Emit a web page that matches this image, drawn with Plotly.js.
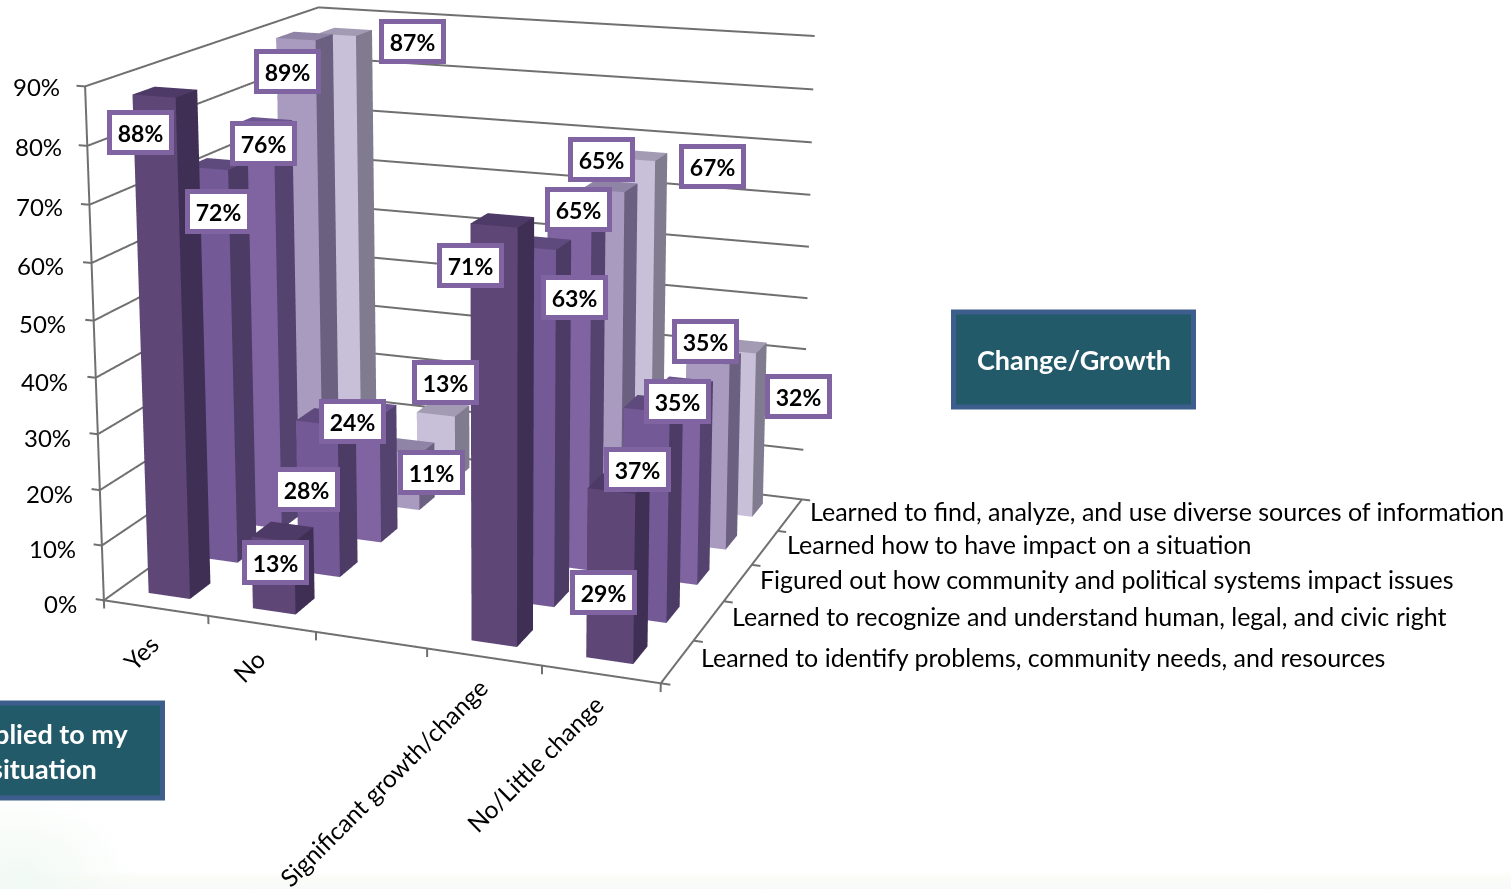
<!DOCTYPE html>
<html><head><meta charset="utf-8">
<script src="https://cdn.plot.ly/plotly-3.0.1.min.js"></script>
<style>
html,body{margin:0;padding:0;overflow:hidden;background:#fff;width:1511px;height:889px}
#wrap{position:fixed;left:0;top:0;width:1511px;height:889px;overflow:hidden;
background:
 radial-gradient(ellipse 120px 90px at 20px 880px,#f1f9f3 0%,rgba(255,255,255,0) 100%),
 linear-gradient(to bottom,rgba(255,255,255,0) 0,rgba(255,255,255,0) 872px,#fbfcf8 878px,#f8fafa 889px),#fff}
#chart{position:absolute;left:-699px;top:-865px}
</style></head><body><div id="wrap"><div id="chart"></div></div>
<script>
// ---- data ----
var categories=["Yes","No","","Significant growth/change","No/Little change"];
var seriesNames=["Learned to identify problems, community needs, and resources",
 "Learned to recognize and understand human, legal, and civic right",
 "Figured out how community and political systems impact issues",
 "Learned how to have impact on a situation",
 "Learned to find, analyze, and use diverse sources of information"];
var identifyProblems=[88,13,null,71,29];
var recognizeRights=[72,28,null,63,37];
var figuredOutSystems=[76,24,null,65,35];
var haveImpact=[89,11,null,65,35];
var findSources=[87,13,null,67,32];
var allSeries=[identifyProblems,recognizeRights,figuredOutSystems,haveImpact,findSources];
var zTicks=[0,10,20,30,40,50,60,70,80,90];

// ---- styles ----
var frontCol=["#5e4676","#735a96","#8064a2","#a99bc0","#c8c0d8"];
var sideCol=["#3f2f55","#4c3b64","#54426f","#6b6080","#807b8f"];
var topCol=["#4e3a66","#5f4a7e","#6c5590","#8f84a5","#a39bb3"];
var ink="#707070";

// ---- view ----
var W=2400,H=2120,left=-699,top_=-865;
var px0=left+W/2,py0=top_+H/2;
var xr=[-0.7,4.7],yr=[-0.7,4.7],zr=[-3,92];
var k=0.905;
var unitX=k*1.127/5,unitY=k*1.04/5,unitZ=k*1.012/90;
var aspect={x:(xr[1]-xr[0])*unitX,y:(yr[1]-yr[0])*unitY,z:(zr[1]-zr[0])*unitZ};
var mid=[(xr[0]+xr[1])/2,(yr[0]+yr[1])/2,(zr[0]+zr[1])/2];
function norm(x,y,z){return [(x-mid[0])*unitX,(y-mid[1])*unitY,(z-mid[2])*unitZ];}
var phi=20.5*Math.PI/180,el=12.8*Math.PI/180,dist=5.08*k;
var right=[Math.cos(phi),Math.sin(phi),0];
var boxC=norm(2,2,45);
var shiftR=0.06*k,shiftU=0.234*k;
var center=[boxC[0]+right[0]*shiftR,boxC[1]+right[1]*shiftR,boxC[2]+shiftU];
var dir=[Math.sin(phi)*Math.cos(el),-Math.cos(phi)*Math.cos(el),Math.sin(el)];
var eye=[center[0]+dist*dir[0],center[1]+dist*dir[1],center[2]+dist*dir[2]];
var f=(H/2)/Math.tan(Math.PI/8);
var upS=[-dir[0]*dir[2],-dir[1]*dir[2],1-dir[2]*dir[2]];
var ul=Math.hypot(upS[0],upS[1],upS[2]);upS=upS.map(function(v){return v/ul;});
function dot(a,b){return a[0]*b[0]+a[1]*b[1]+a[2]*b[2];}
function project(x,y,z){var n=norm(x,y,z),v=[n[0]-eye[0],n[1]-eye[1],n[2]-eye[2]];
 var depth=-dot(v,dir);return [px0+f*dot(v,right)/depth,py0-f*dot(v,upS)/depth];}

// ---- bars ----
var halfW=0.2,xOff=-0.02,yIn=0.31,yDepth=0.42;
var traces=allSeries.map(function(vals,s){
 var X=[],Y=[],Z=[],I=[],J=[],K=[],C=[];
 vals.forEach(function(v,c){ if(v===null)return;
  var x0=c+xOff-halfW,x1=c+xOff+halfW,y0=s-0.5+yIn,y1=y0+yDepth,b=X.length;
  [[x0,y0,0],[x1,y0,0],[x1,y1,0],[x0,y1,0],[x0,y0,v],[x1,y0,v],[x1,y1,v],[x0,y1,v]].forEach(function(p){X.push(p[0]);Y.push(p[1]);Z.push(p[2]);});
  [[0,1,5,frontCol],[0,5,4,frontCol],[1,2,6,sideCol],[1,6,5,sideCol],[4,5,6,topCol],[4,6,7,topCol],
   [3,0,4,sideCol],[3,4,7,sideCol],[2,3,7,sideCol],[2,7,6,sideCol]].forEach(function(t){
    I.push(b+t[0]);J.push(b+t[1]);K.push(b+t[2]);C.push(t[3][s]);});
 });
 return {type:"mesh3d",x:X,y:Y,z:Z,i:I,j:J,k:K,facecolor:C,flatshading:true,hoverinfo:"skip",showscale:false,
  lighting:{ambient:1,diffuse:0,specular:0,roughness:1,fresnel:0}};
});

// ---- frame, gridlines and ticks ----
var lx=[],ly=[],lz=[];
function seg(pts){pts.forEach(function(p){lx.push(p[0]);ly.push(p[1]);lz.push(p[2]);});lx.push(null);ly.push(null);lz.push(null);}
var x0=-0.5,x1=4.5,y0=-0.5,y1=4.5;
zTicks.forEach(function(z){seg([[x0-0.08,y0,z],[x0,y0,z],[x0,y1,z],[x1,y1,z]]);});
seg([[x0,y0,-1.5],[x0,y0,90]]);
seg([[x0,y0,0],[x1,y0,0],[x1,y1,0]]);
for(var t=0;t<=5;t++){seg([[x0+t,y0,0],[x0+t,y0,-1.5]]);seg([[x1,y0+t,0],[x1+0.08,y0+t,0]]);}
traces.push({type:"scatter3d",mode:"lines",x:lx,y:ly,z:lz,line:{color:ink,width:4},hoverinfo:"skip",showlegend:false,connectgaps:false});

// ---- text ----
var FONT="Lato, 'Noto Sans', sans-serif";
var ann=[];
function pinned(x,y,z,page,opts){var p=project(x,y,z);
 return Object.assign({x:x,y:y,z:z,showarrow:false,xshift:page[0]-p[0],yshift:p[1]-page[1]},opts);}
// label centres on the page, [category][series] order as in allSeries
var labelCentres=[
 [[140,133],[218,212],[263,144],[287,72],[412,42]],
 [[275,563],[306,490],[352,422],[431,474],[445,384]],
 null,
 [[470,266],[574,298],[578,210],[601,160],[712,167]],
 [[603,594],[637,470],[677,402],[705,342],[798,398]]];
allSeries.forEach(function(vals,s){vals.forEach(function(v,c){ if(v===null)return;
 var t=labelCentres[c][s];
 ann.push(pinned(c+xOff,s-0.5+yIn+yDepth/2,v,[t[0]+0.5,t[1]-1],{text:"<b>"+v+"%</b>",
  width:57,height:35,borderpad:0,borderwidth:5,bordercolor:"#8064a2",bgcolor:"#fff",
  font:{family:FONT,size:23,color:"#000"}}));
});});
var zLabelEnds=[[79,604],[78,549],[75,494],[73,437],[70,381],[68,323],[66,265],[65,206],[64,146],[62,86]];
zTicks.forEach(function(z,i){
 ann.push(pinned(x0,y0,z,zLabelEnds[i],{text:z+"%",xanchor:"right",yanchor:"middle",font:{family:FONT,size:24,color:"#000"}}));
});
var catLabelEnds=[[167,627],[273,642],null,[496,670],[612,687]];
categories.forEach(function(c,i){ if(!c)return;
 ann.push(pinned(i,y0,0,catLabelEnds[i],{text:c,textangle:-45,xanchor:"right",yanchor:"top",font:{family:FONT,size:24.5,color:"#000"}}));
});
var seriesLabelStarts=[[699,657],[730,616],[758,579],[785,544],[808,511]];
seriesNames.forEach(function(n,s){
 ann.push(pinned(x1,s,0,seriesLabelStarts[s],{text:n,xanchor:"left",yanchor:"middle",font:{family:FONT,size:25,color:"#000"}}));
});
function pageX(p){return (p-left)/W;}
function pageY(p){return 1-(p-top_)/H;}
function calloutBox(a,b,c,d){return {type:"rect",xref:"paper",yref:"paper",x0:pageX(a),x1:pageX(b),y0:pageY(c),y1:pageY(d),
 line:{color:"#3d5e8c",width:5},fillcolor:"#235a69",layer:"above"};}
function calloutText(cx,cy,txt){return {xref:"paper",yref:"paper",x:pageX(cx),y:pageY(cy),xanchor:"center",yanchor:"middle",
 text:"<b>"+txt+"</b>",showarrow:false,align:"center",font:{family:FONT,size:27,color:"#fff"}};}

var hidden={visible:false,autorange:false,showgrid:false,zeroline:false,showspikes:false};
var layout={width:W,height:H,margin:{l:0,r:0,t:0,b:0},paper_bgcolor:"rgba(0,0,0,0)",showlegend:false,
 shapes:[calloutBox(953.5,1193.5,312,407),calloutBox(-77,162.5,703,798)],
 annotations:[calloutText(1073.5,359,"Change/Growth"),calloutText(44,751,"Applied to my<br>situation")],
 scene:{domain:{x:[0,1],y:[0,1]},bgcolor:"rgba(0,0,0,0)",aspectmode:"manual",aspectratio:aspect,
  xaxis:Object.assign({range:xr},hidden),yaxis:Object.assign({range:yr},hidden),zaxis:Object.assign({range:zr},hidden),
  camera:{eye:{x:eye[0],y:eye[1],z:eye[2]},center:{x:center[0],y:center[1],z:center[2]},up:{x:0,y:0,z:1},projection:{type:"perspective"}},
  annotations:ann}};
Plotly.newPlot("chart",traces,layout,{displayModeBar:false,staticPlot:false});
</script></body></html>
